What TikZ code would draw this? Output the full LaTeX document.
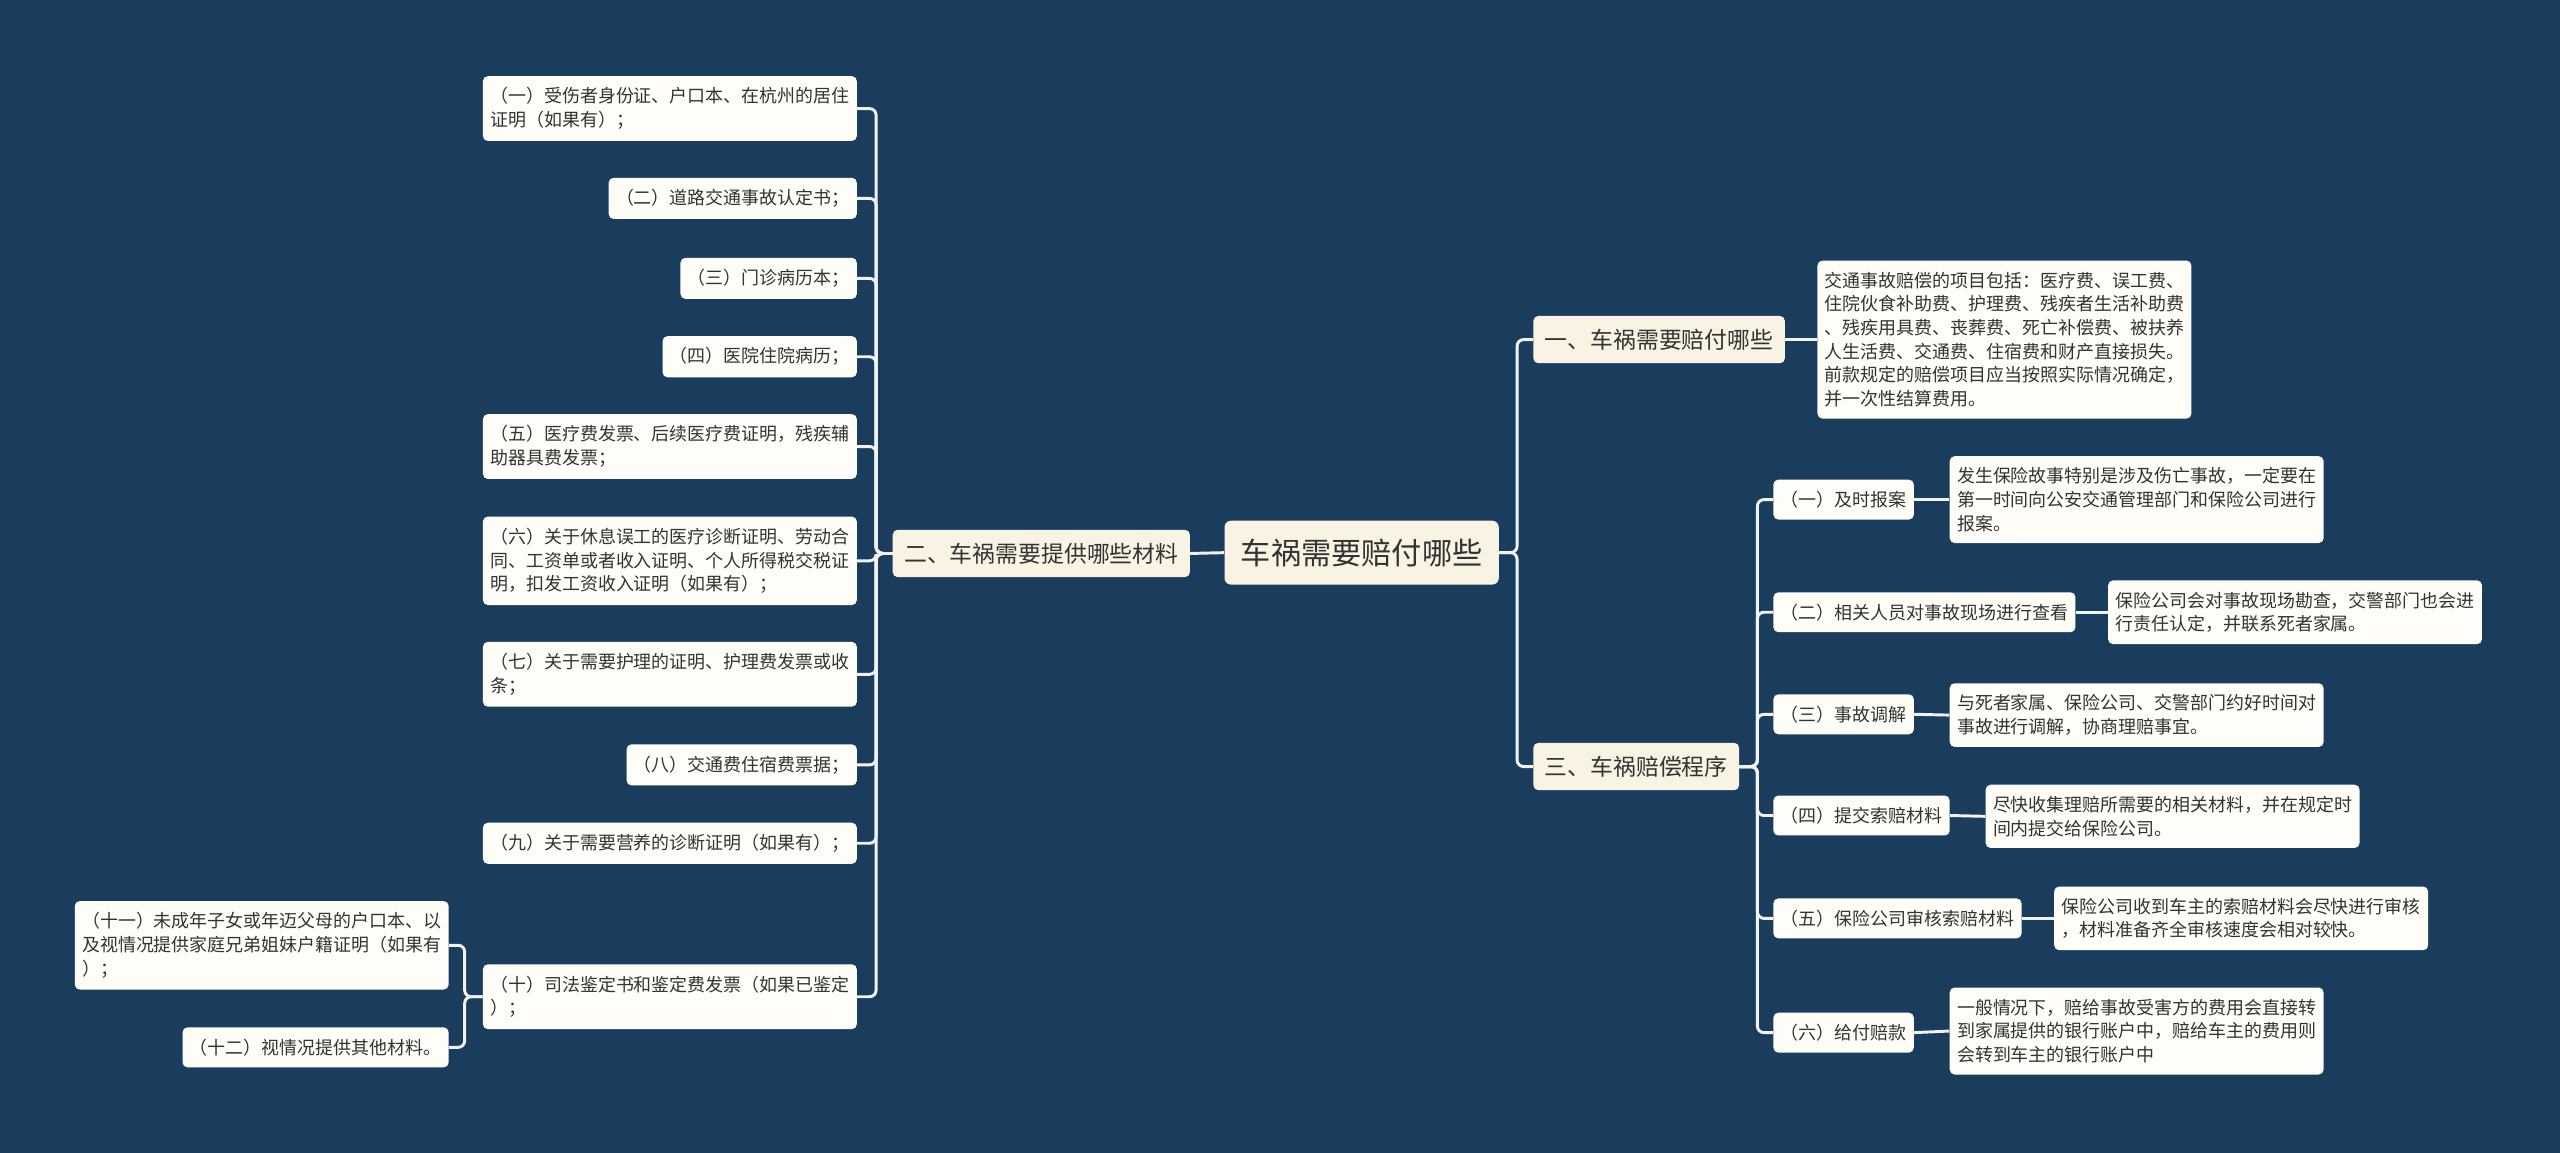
\documentclass[tikz,border=0pt]{standalone}
\usepackage{fontspec}
\newfontfamily\cjk{Noto Sans CJK SC}
\definecolor{bgblue}{HTML}{1A3D5E}
\definecolor{cream}{HTML}{F8F3E2}
\definecolor{paper}{HTML}{FEFDF8}
\definecolor{ink}{HTML}{333333}
\definecolor{wire}{HTML}{F2F2F2}
\begin{document}
\begin{tikzpicture}[x=1pt,y=-1pt,font=\cjk\fontsize{11}{14.5}\selectfont,text=ink,
  box/.style={fill=paper,rounded corners=3pt,inner xsep=4.5pt,inner ysep=7pt,align=left},
  topic/.style={fill=cream,rounded corners=3pt,font=\cjk\fontsize{14}{17}\selectfont,inner xsep=7pt,inner ysep=8pt},
  root/.style={fill=cream,rounded corners=4pt,font=\cjk\fontsize{18.5}{22}\selectfont,inner xsep=10pt,inner ysep=11pt},
  link/.style={draw=wire,line width=1.8pt,rounded corners=4pt}]

\fill[bgblue] (0,0) rectangle (1568,706);
\useasboundingbox (0,0) rectangle (1568,706);

% main topics
\node[root] (root) at (834,338.5) {车祸需要赔付哪些};
\node[topic,anchor=east] (mat) at (729,339) {二、车祸需要提供哪些材料};
\node[topic,anchor=west] (pay) at (939,208) {一、车祸需要赔付哪些};
\node[topic,anchor=west] (proc) at (939,469.5) {三、车祸赔偿程序};

% materials
\node[box,anchor=east] (m1) at (525,66.5) {（一）受伤者身份证、户口本、在杭州的居住\\证明（如果有）；};
\node[box,anchor=east] (m2) at (525,121.5) {（二）道路交通事故认定书；};
\node[box,anchor=east] (m3) at (525,170.5) {（三）门诊病历本；};
\node[box,anchor=east] (m4) at (525,218.5) {（四）医院住院病历；};
\node[box,anchor=east] (m5) at (525,273.5) {（五）医疗费发票、后续医疗费证明，残疾辅\\助器具费发票；};
\node[box,anchor=east] (m6) at (525,343.5) {（六）关于休息误工的医疗诊断证明、劳动合\\同、工资单或者收入证明、个人所得税交税证\\明，扣发工资收入证明（如果有）；};
\node[box,anchor=east] (m7) at (525,413) {（七）关于需要护理的证明、护理费发票或收\\条；};
\node[box,anchor=east] (m8) at (525,468.5) {（八）交通费住宿费票据；};
\node[box,anchor=east] (m9) at (525,516.5) {（九）关于需要营养的诊断证明（如果有）；};
\node[box,anchor=east] (m10) at (525,610.5) {（十）司法鉴定书和鉴定费发票（如果已鉴定\\）；};
\node[box,anchor=east] (m11) at (275,579) {（十一）未成年子女或年迈父母的户口本、以\\及视情况提供家庭兄弟姐妹户籍证明（如果有\\）；};
\node[box,anchor=east] (m12) at (275,641.5) {（十二）视情况提供其他材料。};

% what is paid
\node[box,anchor=west] (payd) at (1113,208) {交通事故赔偿的项目包括：医疗费、误工费、\\住院伙食补助费、护理费、残疾者生活补助费\\、残疾用具费、丧葬费、死亡补偿费、被扶养\\人生活费、交通费、住宿费和财产直接损失。\\前款规定的赔偿项目应当按照实际情况确定，\\并一次性结算费用。};

% procedure
\node[box,anchor=west] (s1) at (1086,306) {（一）及时报案};
\node[box,anchor=west] (s2) at (1086,375) {（二）相关人员对事故现场进行查看};
\node[box,anchor=west] (s3) at (1086,437.5) {（三）事故调解};
\node[box,anchor=west] (s4) at (1086,499.5) {（四）提交索赔材料};
\node[box,anchor=west] (s5) at (1086,562.5) {（五）保险公司审核索赔材料};
\node[box,anchor=west] (s6) at (1086,632.5) {（六）给付赔款};
\node[box,anchor=west] (d1) at (1194,306) {发生保险故事特别是涉及伤亡事故，一定要在\\第一时间向公安交通管理部门和保险公司进行\\报案。};
\node[box,anchor=west] (d2) at (1291,375) {保险公司会对事故现场勘查，交警部门也会进\\行责任认定，并联系死者家属。};
\node[box,anchor=west] (d3) at (1194,438) {与死者家属、保险公司、交警部门约好时间对\\事故进行调解，协商理赔事宜。};
\node[box,anchor=west] (d4) at (1216,500) {尽快收集理赔所需要的相关材料，并在规定时\\间内提交给保险公司。};
\node[box,anchor=west] (d5) at (1258,562.5) {保险公司收到车主的索赔材料会尽快进行审核\\，材料准备齐全审核速度会相对较快。};
\node[box,anchor=west] (d6) at (1194,631.5) {一般情况下，赔给事故受害方的费用会直接转\\到家属提供的银行账户中，赔给车主的费用则\\会转到车主的银行账户中};

% connectors
\draw[link] (root.west) -- (mat.east);
\foreach \n in {pay,proc}
  \draw[link] (root.east) -- ++(11,0) |- (\n.west);
\draw[link] (pay.east) -- (payd.west);
\foreach \n in {m1,m2,m3,m4,m5,m6,m7,m8,m9,m10}
  \draw[link] (mat.west) -- ++(-10,0) |- (\n.east);
\foreach \n in {m11,m12}
  \draw[link] (m10.west) -- ++(-11,0) |- (\n.east);
\foreach \i in {1,...,6}{
  \draw[link] (proc.east) -- ++(11,0) |- (s\i.west);
  \draw[link] (s\i.east) -- (d\i.west);
}

\end{tikzpicture}
\end{document}
